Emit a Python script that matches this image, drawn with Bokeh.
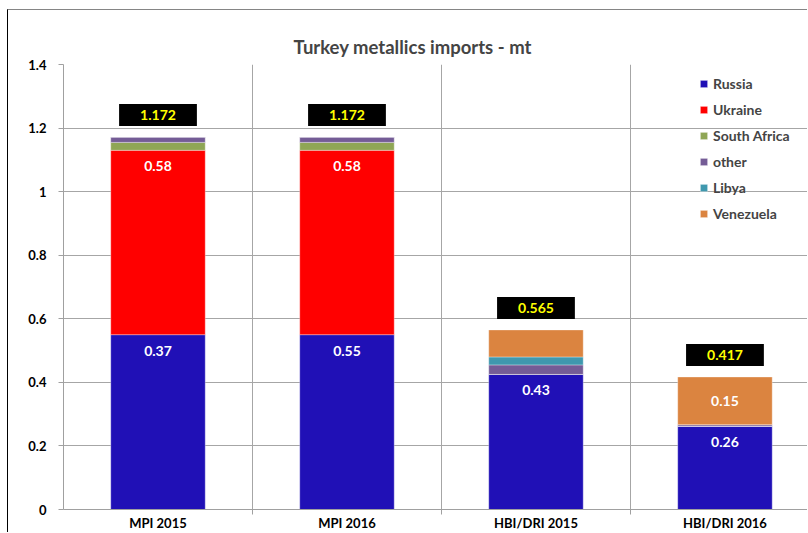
import numpy as np
from bokeh.plotting import figure
from bokeh.models import Range1d, FixedTicker, Label, ColumnDataSource, Title
from bokeh.core.properties import value
from bokeh.embed import file_html
from bokeh.resources import INLINE

# ---- data ----
categories = ["MPI 2015", "MPI 2016", "HBI/DRI 2015", "HBI/DRI 2016"]
series = ["Russia", "Ukraine", "South Africa", "other", "Libya", "Venezuela"]
russia = [0.55, 0.55, 0.425, 0.262]
ukraine = [0.58, 0.58, 0.0, 0.0]
south_africa = [0.025, 0.025, 0.0, 0.0]
other = [0.017, 0.017, 0.030, 0.005]
libya = [0.0, 0.0, 0.025, 0.0]
venezuela = [0.0, 0.0, 0.085, 0.150]
russia_labels = ["0.37", "0.55", "0.43", "0.26"]
ukraine_labels = ["0.58", "0.58", "", ""]
venezuela_labels = ["", "", "", "0.15"]
total_labels = ["1.172", "1.172", "0.565", "0.417"]
y_ticks = [0, 0.2, 0.4, 0.6, 0.8, 1.0, 1.2, 1.4]
y_tick_labels = ["0", "0.2", "0.4", "0.6", "0.8", "1", "1.2", "1.4"]
colors = ["#2010B6", "#FF0000", "#8FA655", "#745C96", "#3F98AE", "#DB8440"]
title_text = "Turkey metallics imports - mt"

FONT = "Lato"
x = np.arange(len(categories)) + 0.5
vals = [russia, ukraine, south_africa, other, libya, venezuela]
data = {"x": x}
for name, v in zip(series, vals):
    data[name] = v
src = ColumnDataSource(data)

tot = np.sum(np.array(vals), axis=0)

p = figure(width=800, height=523, x_range=Range1d(0, 3.942), y_range=Range1d(0, 1.4),
           output_backend="svg", toolbar_location=None,
           min_border_left=55, min_border_right=0, min_border_top=54, min_border_bottom=24)
p.outline_line_color = None
p.background_fill_color = "white"
p.border_fill_color = "white"
p.styles = {"margin-left": "7px", "margin-top": "9px",
            "border-left": "1px solid #000000", "border-top": "1px solid #858585"}

# invisible spacer (sits next to the plot area)
p.title.text = "."
p.title.text_alpha = 0
p.title.text_font_size = "2px"
p.title.standoff = 12
# real title, stacked above the spacer
p.add_layout(Title(text=title_text, align="left", offset=230, vertical_align="top",
                   text_font=FONT, text_font_size="18.5px", text_font_style="bold",
                   standoff=10), "above")

rs = p.vbar_stack(series, x="x", width=0.5, color=colors, source=src,
                  line_color="white", line_alpha=0.35, line_width=1,
                  legend_label=series)

# axes
p.yaxis.ticker = FixedTicker(ticks=y_ticks)
p.yaxis.major_label_overrides = dict(zip(y_ticks, y_tick_labels))
p.yaxis.major_label_text_font = FONT
p.yaxis.major_label_text_font_style = "bold"
p.yaxis.major_label_text_font_size = "13px"
p.yaxis.major_label_text_color = "black"
p.yaxis.axis_line_color = "#a0a0a0"
p.yaxis.major_tick_line_color = "#a0a0a0"
p.yaxis.major_tick_out = 5
p.yaxis.major_tick_in = 0
p.yaxis.minor_tick_line_color = None
p.yaxis.major_label_standoff = 12

p.xaxis.ticker = FixedTicker(ticks=list(x), minor_ticks=[1, 2, 3])
p.xaxis.major_label_overrides = {float(xi): c for xi, c in zip(x, categories)}
p.xaxis.major_label_text_font = FONT
p.xaxis.major_label_text_font_style = "bold"
p.xaxis.major_label_text_font_size = "13px"
p.xaxis.major_label_text_color = "black"
p.xaxis.major_label_standoff = 0
p.xaxis.axis_line_color = "#a0a0a0"
p.xaxis.minor_tick_line_color = "#a0a0a0"
p.xaxis.minor_tick_out = 5
p.xaxis.minor_tick_in = 0
p.xaxis.major_tick_line_color = None
p.xaxis.major_tick_out = 0
p.xaxis.major_tick_in = 0

p.ygrid.grid_line_color = "#a6a6a6"
p.xgrid.grid_line_color = None
p.xgrid.minor_grid_line_color = "#a6a6a6"

# legend
lg = p.legend[0]
lg.location = (636, 286)
lg.background_fill_alpha = 0
lg.border_line_alpha = 0
lg.padding = 0
lg.margin = 0
lg.glyph_width = 9
lg.glyph_height = 9
lg.label_height = 20
lg.spacing = 6
lg.label_standoff = 5
lg.label_text_font = FONT
lg.label_text_font_style = "bold"
lg.label_text_font_size = "14px"

# in-bar labels
r_top = np.array(russia)
u_top = r_top + np.array(ukraine)
v_mid = tot - np.array(venezuela) / 2
for yv, txt, off in [(r_top, russia_labels, 16), (u_top, ukraine_labels, 16), (v_mid, venezuela_labels, 0)]:
    p.text(x=x, y=yv, text=txt, y_offset=off, text_align="center", text_baseline="middle",
           text_color="white", text_font=value(FONT), text_font_style="bold", text_font_size="14px")

# totals boxes
for xi, yi, t in zip(x, tot, total_labels):
    p.add_layout(Label(x=float(xi), y=float(yi), text=t, y_offset=22,
                       text_align="center", text_baseline="middle",
                       text_color="#FFFF00", text_font=FONT, text_font_style="bold",
                       text_font_size="14px", background_fill_color="black",
                       padding=(21, 6)))

open("out.html", "w").write(file_html(p, INLINE))
